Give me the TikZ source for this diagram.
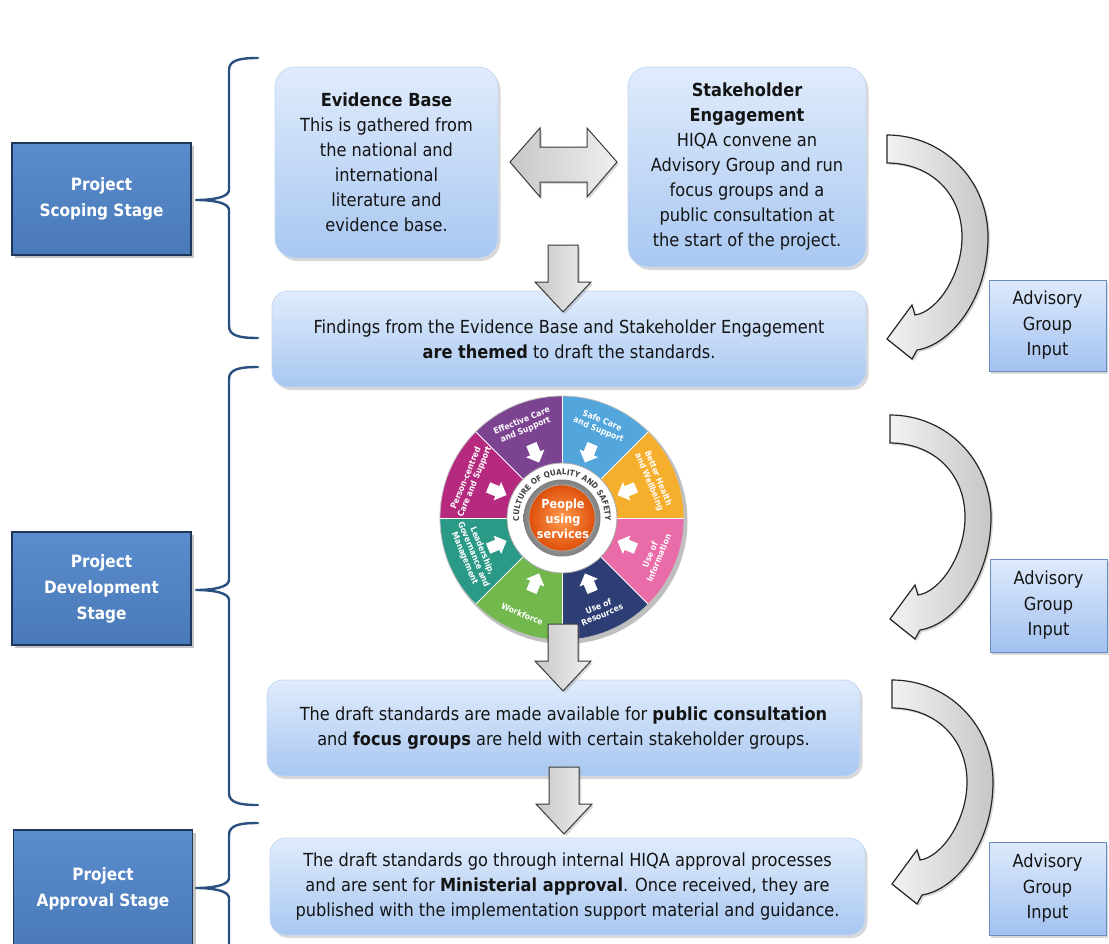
\documentclass[tikz,border=0pt]{standalone}
\usepackage{fontspec}
\setmainfont[FakeStretch=0.9]{DejaVu Sans}
\usetikzlibrary{shadows,decorations.text,calc}

\definecolor{stagefill}{HTML}{4F81BD}
\definecolor{stagetop}{HTML}{5A8DCE}
\definecolor{stagebot}{HTML}{4979B8}
\definecolor{stageedge}{HTML}{1E3658}
\definecolor{braceblue}{HTML}{2A5082}
\definecolor{boxtop}{HTML}{E0ECFC}
\definecolor{boxbot}{HTML}{A8C7F1}
\definecolor{boxedge}{HTML}{C4D8F2}
\definecolor{advtop}{HTML}{DEEAFC}
\definecolor{advbot}{HTML}{A2C1F0}
\definecolor{advedge}{HTML}{6A8CC0}
\definecolor{arrowedge}{HTML}{3A3A3A}
% wheel sector colours
\definecolor{wSafe}{HTML}{52A6DB}
\definecolor{wHealth}{HTML}{F6AE2D}
\definecolor{wInfo}{HTML}{E96BA8}
\definecolor{wRes}{HTML}{2D3E74}
\definecolor{wWork}{HTML}{72B84C}
\definecolor{wLead}{HTML}{2A9A86}
\definecolor{wPerson}{HTML}{B52A7E}
\definecolor{wEffect}{HTML}{7C4391}
\definecolor{ballin}{HTML}{FF9C4E}
\definecolor{ballout}{HTML}{DE4F0A}

\newcommand\ringfont{\fontsize{8}{8}\selectfont\bfseries}

% curly brace from a stage box to its group of steps (y values in px, downwards)
\newcommand\stagebrace[3]{%
  \draw[bracepath] (258,{-(#1)}) .. controls (240,{-(#1)}) and (229,{-(#1)-2}) .. (229,{-(#1)-12})
    -- (229,{-(#2)+10}) .. controls (229,{-(#2)+3}) and (214,{-(#2)}) .. (196,{-(#2)})
    .. controls (214,{-(#2)}) and (229,{-(#2)-3}) .. (229,{-(#2)-10})
    -- (229,{-(#3)+12}) .. controls (229,{-(#3)+2}) and (240,{-(#3)}) .. (258,{-(#3)});}

\tikzset{
  stagebox/.style={draw=stageedge, line width=1.6pt, top color=stagetop, bottom color=stagebot,
    minimum width=179pt, minimum height=112pt, inner sep=0pt, align=center, text=white,
    font=\fontsize{17}{26}\selectfont\bfseries,
    drop shadow={shadow xshift=3pt, shadow yshift=-3pt, opacity=0.45}},
  roundbox/.style={draw=boxedge, line width=0.8pt, rounded corners=20pt, top color=boxtop,
    bottom color=boxbot, align=center, inner sep=0pt, text=black!92,
    font=\fontsize{18}{25}\selectfont,
    drop shadow={shadow xshift=2.5pt, shadow yshift=-3pt, opacity=0.3}},
  advbox/.style={draw=advedge, line width=0.8pt, top color=advtop, bottom color=advbot,
    minimum width=117pt, minimum height=91pt, inner sep=0pt, align=center, text=black!92,
    font=\fontsize{18}{25.5}\selectfont,
    drop shadow={shadow xshift=2pt, shadow yshift=-2.5pt, opacity=0.3}},
  bracepath/.style={draw=braceblue, line width=2.4pt, line cap=round, line join=round},
  blockarrow/.style={draw=arrowedge, line width=1pt, line join=miter, left color=black!22, right color=black!6,
    drop shadow={shadow xshift=2pt, shadow yshift=-2pt, opacity=0.3}},
  loopstyle/.style={draw=black!85, line width=1.2pt, left color=black!5, right color=black!22,
    drop shadow={shadow xshift=2pt, shadow yshift=-2pt, opacity=0.3}},
  wheellabel/.style={text=white, font=\fontsize{8.5}{9.5}\selectfont\bfseries, align=center, inner sep=0pt},
  pics/dropdown/.style={code={
    \path[blockarrow] (-15,0) -- (15,0) -- (15,-37) -- (28,-37) -- (0,-67) -- (-28,-37) -- (-15,-37) -- cycle;}},
  pics/loopback/.style={code={
    \path[loopstyle] (0,0) .. controls (56,0) and (101,-45) .. (101,-102)
      .. controls (101,-165) and (63,-210) .. (30,-215) -- (25,-224) -- (0,-204) -- (25,-170) -- (28,-180)
      .. controls (50,-177) and (75,-140) .. (75,-102) .. controls (75,-58) and (43,-28) .. (0,-28) -- cycle;}},
  pics/inarrow/.style={code={
    \fill[white] (-10,0) -- (0,10) -- (0,5.5) -- (10,5.5) -- (10,-5.5) -- (0,-5.5) -- (0,-10) -- cycle;}}
}

\begin{document}
\begin{tikzpicture}[x=1pt,y=1pt]
\useasboundingbox (0,0) rectangle (1109,-943);
\clip (0,0) rectangle (1109,-943);
\fill[white] (0,0) rectangle (1109,-943);

% stage labels
\node[stagebox] (stScope) at (101.5,-199) {Project\\Scoping Stage};
\node[stagebox, minimum height=113pt] (stDevel) at (101.5,-588.5) {Project\\Development\\Stage};
\node[stagebox, minimum height=118pt] (stAppr) at (103,-889) {Project\\Approval Stage};

% braces
\stagebrace{58}{200}{338}
\stagebrace{367}{590}{805}
\stagebrace{823}{888}{1000}

% process steps
\node[roundbox, minimum width=223pt, minimum height=191pt] (evid) at (386.5,-162.5)
  {\textbf{Evidence Base}\\This is gathered from\\the national and\\international\\literature and\\evidence base.};
\node[roundbox, minimum width=238pt, minimum height=200pt] (stake) at (747,-167)
  {\textbf{Stakeholder}\\\textbf{Engagement}\\HIQA convene an\\Advisory Group and run\\focus groups and a\\public consultation at\\the start of the project.};
\node[roundbox, rounded corners=16pt, minimum width=594pt, minimum height=96pt] (find) at (569,-339)
  {Findings from the Evidence Base and Stakeholder Engagement\\\textbf{are themed} to draft the standards.};
\node[roundbox, rounded corners=16pt, minimum width=593pt, minimum height=96pt] (draft) at (563.5,-728)
  {The draft standards are made available for \textbf{public consultation}\\and \textbf{focus groups} are held with certain stakeholder groups.};
\node[roundbox, rounded corners=16pt, minimum width=595pt, minimum height=97pt] (final) at (567.5,-886.5)
  {The draft standards go through internal HIQA approval processes\\and are sent for \textbf{Ministerial approval}. Once received, they are\\published with the implementation support material and guidance.};

% standards wheel
\begin{scope}[shift={(562,-518)}]
  \fill[black, opacity=0.25] (2.5,-3) circle (123);
  \fill[wHealth] (0,0) -- (0:122) arc[start angle=0, end angle=45, radius=122] -- cycle;
  \fill[wSafe]   (0,0) -- (45:122) arc[start angle=45, end angle=90, radius=122] -- cycle;
  \fill[wEffect] (0,0) -- (90:122) arc[start angle=90, end angle=135, radius=122] -- cycle;
  \fill[wPerson] (0,0) -- (135:122) arc[start angle=135, end angle=180, radius=122] -- cycle;
  \fill[wLead]   (0,0) -- (180:122) arc[start angle=180, end angle=225, radius=122] -- cycle;
  \fill[wWork]   (0,0) -- (225:122) arc[start angle=225, end angle=270, radius=122] -- cycle;
  \fill[wRes]    (0,0) -- (270:122) arc[start angle=270, end angle=315, radius=122] -- cycle;
  \fill[wInfo]   (0,0) -- (315:122) arc[start angle=315, end angle=360, radius=122] -- cycle;
  \foreach \a in {0,45,...,315} \draw[white, line width=0.8pt] (0,0) -- (\a:122);
  \draw[black!25, line width=0.8pt] (0,0) circle (122);
  % sector titles
  \node[wheellabel, rotate=-22.5] (lSafe) at (67.5:100) {Safe Care\\and Support};
  \node[wheellabel, rotate=-67.5] (lHealth) at (22.5:99) {Better Health\\and Wellbeing};
  \node[wheellabel, rotate=67.5] (lInfo) at (-22.5:100) {Use of\\Information};
  \node[wheellabel, rotate=22.5] (lRes) at (-67.5:100) {Use of\\Resources};
  \node[wheellabel, rotate=-22.5] (lWork) at (-112.5:104) {Workforce};
  \node[wheellabel, rotate=-67.5] (lLead) at (-157.5:96) {Leadership,\\Governance and\\Management};
  \node[wheellabel, rotate=67.5] (lPerson) at (157.5:99) {Person-centred\\Care and Support};
  \node[wheellabel, rotate=22.5] (lEffect) at (112.5:100) {Effective Care\\and Support};
  % inward arrows
  \foreach \a in {22.5,67.5,...,337.5} \pic[rotate=\a] at (\a:70) {inarrow};
  % culture ring
  \fill[white] (0,0) circle (55);
  \draw[black!35, line width=0.8pt] (0,0) circle (55);
  \path[decorate, decoration={text along path, text={|\ringfont|CULTURE OF QUALITY AND SAFETY},
      text align={center}, text color=black!75}]
    (202:43) arc[start angle=202, end angle=-22, radius=43];
  \shade[inner color=black!10, outer color=black!50] (0,0) circle (38.5);
  \shade[inner color=ballin, outer color=ballout] (0,0) circle (33);
  \draw[black!30, line width=0.5pt] (0,0) circle (33);
  \node[text=white, font=\fontsize{12.5}{15}\selectfont\bfseries, align=center, inner sep=0pt] (people) at (1,-1)
    {People\\using\\services};
\end{scope}

% straight block arrows
\path[blockarrow] (510,-162) -- (540,-128) -- (540,-147) -- (587,-147) -- (587,-128) -- (617,-162)
  -- (587,-197) -- (587,-182) -- (540,-182) -- (540,-197) -- cycle;
\pic at (563,-245) {dropdown};
\pic at (563,-624) {dropdown};
\pic at (564,-767) {dropdown};

% advisory group feedback
\pic at (887,-135) {loopback};
\pic at (890,-415) {loopback};
\pic at (892,-680) {loopback};

\node[advbox] (adv1) at (1047.5,-325.5) {Advisory\\Group\\Input};
\node[advbox, minimum height=93pt] (adv2) at (1048.5,-605.5) {Advisory\\Group\\Input};
\node[advbox, minimum height=93pt] (adv3) at (1047.5,-888.5) {Advisory\\Group\\Input};
\end{tikzpicture}
\end{document}
